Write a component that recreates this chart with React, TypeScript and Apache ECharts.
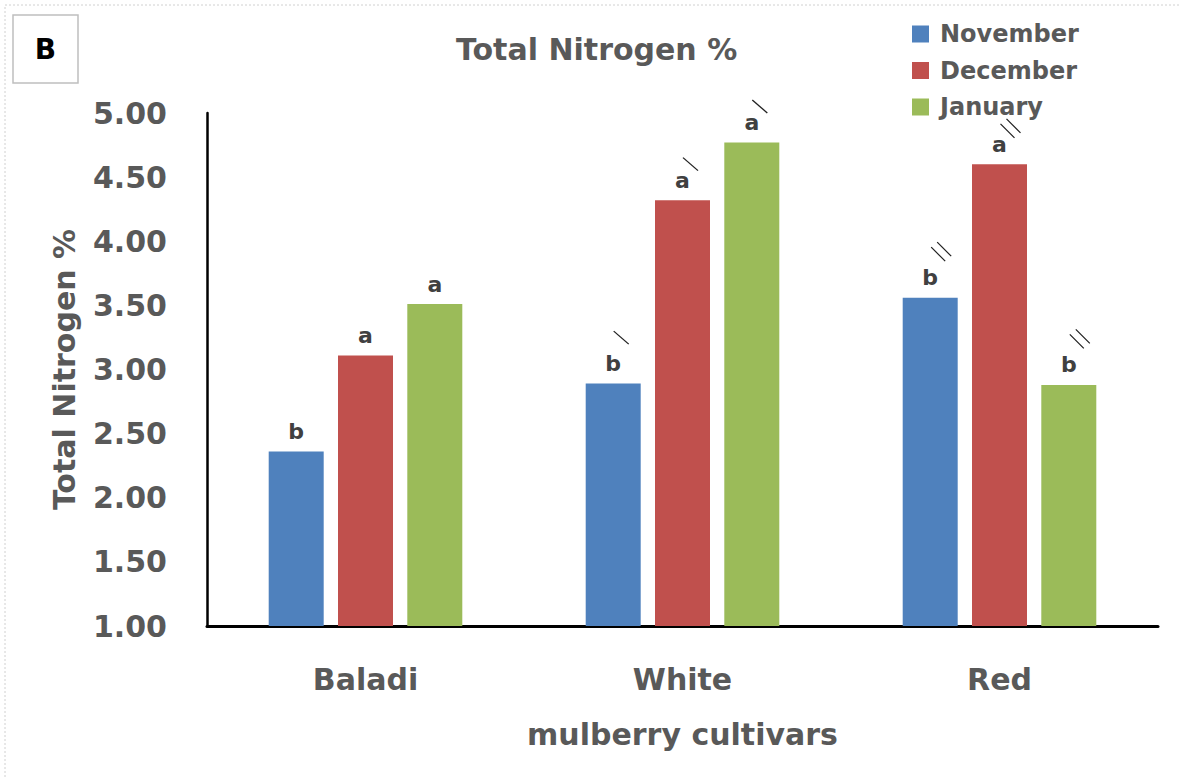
import React, { useEffect, useRef } from "react";
import * as echarts from "echarts";

const categories = ["Baladi", "White", "Red"];
const months = ["November", "December", "January"];
const novValues = [2.36, 2.89, 3.56];
const decValues = [3.11, 4.32, 4.6];
const janValues = [3.51, 4.77, 2.88];
const novLetters = ["b", "b", "b"];
const decLetters = ["a", "a", "a"];
const janLetters = ["a", "a", "b"];
const novSlashes = [0, 1, 2];
const decSlashes = [0, 1, 2];
const janSlashes = [0, 1, 2];
const yMin = 1;
const yMax = 5;
const yStep = 0.5;

const colors = ["#4f81bd", "#c0504d", "#9bbb59"];
const FONT = "DejaVu Sans";
const GRAY = "#595959";

const SINGLE = "path://M0,0L15,13";
const DOUBLE = "path://M0,5L14,19M6,0L20,14";

function makeSeries(name: string, values: number[], letters: string[], slashes: number[], color: string) {
  const marks: any[] = [];
  values.forEach((v, i) => {
    const n = slashes[i];
    if (!n) return;
    const yOff = letters[i] === "b" ? -46 : -36;
    marks.push({
      coord: [categories[i], v],
      symbol: n === 1 ? SINGLE : DOUBLE,
      symbolSize: n === 1 ? [15, 13] : [20, 19],
      symbolOffset: n === 1 ? [8, yOff] : [11, yOff],
    });
  });
  return {
    name,
    type: "bar",
    data: values,
    barWidth: 55,
    barGap: "26%",
    itemStyle: { color },
    label: {
      show: true,
      position: "top",
      distance: 9,
      formatter: (p: any) => letters[p.dataIndex],
      fontFamily: FONT,
      fontWeight: "bold",
      fontSize: 22,
      color: "#404040",
    },
    markPoint: {
      silent: true,
      label: { show: false },
      itemStyle: { color: "rgba(0,0,0,0)", borderColor: "#222", borderWidth: 1.2 },
      data: marks,
    },
  };
}

export default function App() {
  const ref = useRef<HTMLDivElement>(null);
  useEffect(() => {
    if (!ref.current) return;
    const chart = echarts.init(ref.current, undefined, { renderer: "svg" });
    chart.setOption({
      animation: false,
      backgroundColor: "#ffffff",
      title: {
        text: "Total Nitrogen %",
        left: 451,
        top: 29,
        textStyle: { fontFamily: FONT, fontWeight: "bold", fontSize: 30, color: GRAY },
      },
      legend: {
        orient: "vertical",
        left: 907,
        top: 17,
        itemWidth: 17,
        itemHeight: 17,
        itemGap: 12.5,
        icon: "rect",
        data: months,
        textStyle: { fontFamily: FONT, fontWeight: "bold", fontSize: 24, lineHeight: 24, color: GRAY, padding: [0, 0, 0, 6] },
      },
      grid: { left: 207, right: 22, top: 113, bottom: 152, containLabel: false },
      xAxis: {
        type: "category",
        data: categories,
        name: "mulberry cultivars",
        nameLocation: "middle",
        nameGap: 93,
        nameTextStyle: { fontFamily: FONT, fontWeight: "bold", fontSize: 30, color: GRAY },
        axisLine: { lineStyle: { color: "#000", width: 3 } },
        axisTick: { show: false },
        axisLabel: { margin: 38, fontFamily: FONT, fontWeight: "bold", fontSize: 30, color: GRAY },
      },
      yAxis: {
        type: "value",
        min: yMin,
        max: yMax,
        interval: yStep,
        name: "Total Nitrogen %",
        nameLocation: "middle",
        nameGap: 128,
        nameTextStyle: { fontFamily: FONT, fontWeight: "bold", fontSize: 30, color: GRAY },
        axisLine: { show: true, lineStyle: { color: "#000", width: 2.5 } },
        axisTick: { show: false },
        splitLine: { show: false },
        axisLabel: {
          margin: 40,
          fontFamily: FONT,
          fontWeight: "bold",
          fontSize: 30,
          color: GRAY,
          formatter: (v: number) => v.toFixed(2),
        },
      },
      graphic: [
        {
          type: "rect",
          shape: { x: 5, y: 5, width: 1300, height: 900 },
          style: { fill: "none", stroke: "#d0d0d0", lineWidth: 1, lineDash: [2, 2] },
          silent: true,
        },
        {
          type: "rect",
          shape: { x: 13, y: 15, width: 65, height: 68 },
          style: { fill: "#fff", stroke: "#bfbfbf", lineWidth: 1.5 },
          silent: true,
        },
        {
          type: "text",
          x: 45.5,
          y: 49,
          style: {
            text: "B",
            fontFamily: FONT,
            fontWeight: "bold",
            fontSize: 28,
            fill: "#000",
            align: "center",
            verticalAlign: "middle",
          },
          silent: true,
        },
      ],
      series: [
        makeSeries(months[0], novValues, novLetters, novSlashes, colors[0]),
        makeSeries(months[1], decValues, decLetters, decSlashes, colors[1]),
        makeSeries(months[2], janValues, janLetters, janSlashes, colors[2]),
      ],
    });
    return () => chart.dispose();
  }, []);
  return <div ref={ref} style={{ position: "fixed", left: 0, top: 0, width: 1180, height: 778 }} />;
}
